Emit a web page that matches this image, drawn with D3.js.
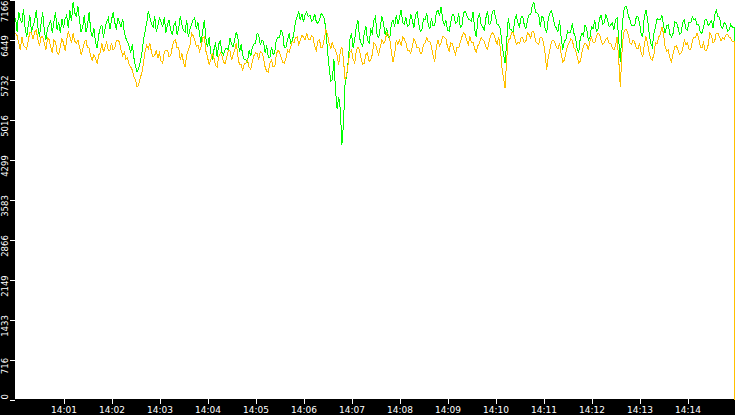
<!DOCTYPE html>
<html lang="en">
<head>
<meta charset="UTF-8">
<title>Throughput 14:00 - 14:15</title>
<script src="https://d3js.org/d3.v7.min.js"></script>
<style>
    html, body { margin: 0; padding: 0; background: #000; overflow: hidden; }
    .axis text { fill: #fff; font-family: "DejaVu Sans", Verdana, sans-serif; }
    .axis line { stroke: #fff; shape-rendering: crispEdges; }
    .series { fill: none; stroke-width: 1; shape-rendering: crispEdges; }
</style>
</head>
<body>
<div id="chart"></div>
<script>
    // samples every 2 s from 14:00:00, the last one is the end of the capture
    const startTime = "14:00:00";
    const stepSeconds = 2;
    const endSecond = 898.75;

    const xTickLabels = ["14:01", "14:02", "14:03", "14:04", "14:05", "14:06", "14:07",
                         "14:08", "14:09", "14:10", "14:11", "14:12", "14:13", "14:14"];
    const yTickLabels = ["0", "716", "1433", "2149", "2866", "3583", "4299", "5016", "5732", "6449", "7166"];

    // one row per minute
    const greenValues = [
        6835, 6590, 6942, 6820, 6745, 6990, 6655, 6490, 6709, 6880, 6584, 6690, 6799, 6970, 6673, 6500, 6745, 6935, 6620, 6435, 6655, 6715, 6799, 6570, 6763, 6945, 6620, 6765, 6566, 6820,
        6655, 6820, 6888, 6655, 6978, 6780, 7121, 6930, 6852, 7040, 6799, 6580, 6673, 6890, 6584, 6695, 6942, 6610, 6494, 6660, 6405, 6295, 6530, 6670, 6709, 6485, 6655, 6770, 6835, 6630,
        6799, 6940, 6763, 6625, 6835, 6760, 6673, 6820, 6584, 6470, 6405, 6330, 6208, 6365, 6118, 5970, 5867, 5940, 6046, 6205, 6440, 6600, 6745, 6965, 6835, 6730, 6673, 6870, 6584, 6690,
        6852, 6760, 6673, 6845, 6566, 6710, 6799, 6625, 6530, 6700, 6763, 6535, 6655, 6870, 6709, 6605, 6584, 6795, 6494, 6630, 6709, 6800, 6835, 6640, 6763, 6550, 6387, 6600, 6799, 6465,
        6315, 6485, 6208, 6085, 6261, 6395, 6136, 6360, 6440, 6220, 6172, 6275, 6297, 6250, 6476, 6370, 6315, 6450, 6584, 6480, 6225, 6360, 6172, 6085, 6082, 6050, 6261, 6150, 6297, 6370,
        6387, 6560, 6530, 6350, 6440, 6410, 6208, 6345, 6136, 6120, 6315, 6180, 6208, 6440, 6494, 6480, 6620, 6560, 6297, 6300, 6440, 6560, 6387, 6420, 6566, 6780, 6852, 6950, 6799, 6910,
        6763, 6900, 6942, 6860, 6888, 6780, 6799, 6910, 6763, 6740, 6799, 6910, 6888, 6830, 6620, 6250, 5957, 5700, 5724, 6100, 5545, 5200, 5419, 5200, 4559, 4950, 5670, 5800, 6082, 6450,
        6566, 6300, 6440, 6680, 6799, 6480, 6387, 6330, 6566, 6690, 6440, 6380, 6620, 6560, 6799, 6860, 6530, 6480, 6673, 6860, 6745, 6540, 6655, 6480, 6494, 6740, 6799, 6680, 6888, 6720,
        6835, 6980, 6745, 6720, 6852, 6680, 6709, 6900, 6799, 6660, 6888, 6940, 6745, 6600, 6620, 6820, 6799, 6930, 6709, 6640, 6835, 6690, 6709, 6930, 6978, 6880, 7032, 6800, 6709, 6800,
        6620, 6600, 6745, 6900, 6888, 6740, 6763, 6920, 6673, 6700, 6924, 6960, 6888, 6820, 6799, 6780, 6942, 6620, 6494, 6820, 6924, 6720, 6673, 6620, 6835, 6960, 6709, 6740, 6942, 6980,
        6852, 6720, 6709, 6640, 6387, 6180, 6028, 6420, 6835, 6640, 6620, 6560, 6799, 6880, 6745, 6680, 6852, 6860, 6709, 6640, 6799, 6900, 6888, 7060, 7121, 6940, 6924, 6900, 6673, 6860,
        6835, 6640, 6566, 6820, 6924, 6960, 6852, 6700, 6655, 6580, 6799, 6500, 6261, 6420, 6440, 6600, 6566, 6580, 6745, 6560, 6494, 6280, 6208, 6480, 6566, 6520, 6709, 6640, 6440, 6480,
        6673, 6640, 6799, 6600, 6620, 6820, 6888, 6720, 6745, 6900, 6799, 6680, 6709, 6740, 6620, 6800, 6835, 6450, 6046, 6600, 6942, 7040, 7032, 6880, 6799, 6700, 6709, 6700, 6852, 6860,
        6745, 6560, 6494, 6860, 6978, 6820, 6566, 6380, 6315, 6560, 6673, 6820, 6799, 6800, 6888, 6700, 6566, 6700, 6709, 6540, 6494, 6560, 6763, 6760, 6673, 6540, 6566, 6760, 6799, 6640,
        6620, 6760, 6745, 6860, 6799, 6820, 6709, 6720, 6584, 6560, 6673, 6800, 6799, 6700, 6745, 6780, 6655, 6880, 6978, 6860, 6852, 6680, 6655, 6760, 6709, 6600, 6620, 6720, 6673,
        3323
    ];

    const orangeValues = [
        6566, 6520, 6387, 6260, 6494, 6340, 6315, 6280, 6440, 6580, 6566, 6460, 6584, 6620, 6440, 6340, 6494, 6500, 6387, 6260, 6476, 6450, 6315, 6200, 6440, 6400, 6225, 6180, 6315, 6470,
        6387, 6250, 6440, 6600, 6494, 6380, 6566, 6420, 6387, 6440, 6315, 6180, 6261, 6400, 6440, 6300, 6297, 6140, 6082, 6180, 6118, 6020, 6172, 6220, 6387, 6220, 6315, 6400, 6261, 6250,
        6387, 6260, 6297, 6420, 6440, 6400, 6261, 6160, 6225, 6100, 6118, 6000, 5957, 5900, 5778, 5720, 5598, 5640, 5760, 5860, 6028, 6240, 6351, 6280, 6387, 6220, 6136, 6160, 6261, 6120,
        6208, 6060, 6028, 6220, 6261, 6260, 6136, 6160, 6315, 6420, 6440, 6300, 6297, 6080, 6208, 6040, 5957, 6180, 6261, 6340, 6566, 6520, 6440, 6330, 6351, 6240, 6315, 6480, 6494, 6240,
        6136, 6000, 6082, 6200, 6118, 5980, 5957, 6140, 6208, 6160, 6046, 6020, 6136, 6240, 6261, 6080, 6172, 6260, 6387, 6140, 5993, 6000, 5903, 6020, 6028, 6080, 5957, 5920, 6046, 6160,
        6208, 6200, 6082, 6240, 6208, 6120, 5957, 5880, 5867, 6020, 6082, 5960, 5957, 6180, 6261, 6220, 6136, 6040, 6028, 6100, 6261, 6220, 6315, 6420, 6387, 6480, 6494, 6360, 6440, 6520,
        6494, 6440, 6566, 6450, 6440, 6520, 6494, 6320, 6261, 6420, 6440, 6300, 6315, 6460, 6620, 6540, 6387, 6280, 6405, 6300, 6261, 6160, 5993, 6240, 6315, 6080, 5724, 5820, 6028, 6220,
        6261, 6100, 6028, 6240, 6315, 6260, 6118, 6000, 6028, 6180, 6208, 6060, 6082, 6180, 6387, 6360, 6261, 6180, 6315, 6440, 6387, 6420, 6566, 6540, 6440, 6200, 6046, 6200, 6440, 6360,
        6440, 6340, 6494, 6460, 6387, 6260, 6261, 6200, 6315, 6460, 6405, 6300, 6315, 6200, 6208, 6360, 6387, 6480, 6405, 6420, 6315, 6160, 6046, 6300, 6440, 6340, 6387, 6500, 6494, 6460,
        6315, 6240, 6387, 6380, 6261, 6180, 6315, 6300, 6405, 6500, 6566, 6540, 6440, 6360, 6494, 6400, 6405, 6280, 6225, 6340, 6387, 6480, 6440, 6420, 6315, 6280, 6405, 6520, 6566, 6540,
        6440, 6360, 6494, 6300, 5957, 5760, 5580, 6100, 6440, 6460, 6566, 6580, 6476, 6360, 6405, 6380, 6476, 6480, 6387, 6420, 6566, 6540, 6476, 6600, 6584, 6420, 6387, 6360, 6494, 6480,
        6387, 6200, 5903, 6140, 6261, 6420, 6440, 6400, 6315, 6280, 6387, 6200, 6046, 6080, 6208, 6340, 6387, 6460, 6440, 6300, 6261, 6140, 6028, 6060, 6208, 6340, 6387, 6360, 6261, 6420,
        6494, 6400, 6387, 6500, 6566, 6540, 6440, 6360, 6387, 6460, 6476, 6380, 6387, 6300, 6261, 6340, 6494, 6100, 5598, 6200, 6566, 6620, 6620, 6540, 6387, 6360, 6440, 6400, 6297, 6280,
        6387, 6220, 6136, 6360, 6494, 6400, 6208, 6100, 6082, 6180, 6387, 6380, 6494, 6540, 6673, 6560, 6315, 6240, 6261, 6120, 6046, 6200, 6315, 6340, 6261, 6180, 6208, 6280, 6440, 6360,
        6387, 6280, 6261, 6420, 6494, 6480, 6566, 6480, 6315, 6300, 6387, 6260, 6261, 6360, 6566, 6520, 6387, 6420, 6566, 6560, 6494, 6420, 6476, 6460, 6530, 6540, 6494, 6480, 6405,
        0
    ];

    const W = 735, H = 415;
    const plot = {left: 15, top: 0, right: 735, bottom: 399};

    const parseClock = d3.timeParse("%H:%M:%S");
    const parseTick = d3.timeParse("%H:%M");
    const t0 = parseClock(startTime);
    const tEnd = d3.timeSecond.offset(t0, 900);

    const seconds = greenValues.map((_, i) => i < greenValues.length - 1 ? i * stepSeconds : endSecond);
    const times = seconds.map(s => new Date(t0.getTime() + s * 1000));

    const x = d3.scaleTime()
        .domain([t0, tEnd])
        .range([plot.left + 0.5, plot.right + 0.5]);

    const y = d3.scaleLinear()
        .domain([0, +yTickLabels[yTickLabels.length - 1]])
        .range([plot.bottom + 0.5, plot.top - 0.5]);

    const svg = d3.select("#chart")
        .append("svg")
        .attr("width", W)
        .attr("height", H)
        .style("display", "block");

    svg.append("rect")
        .attr("width", W).attr("height", H)
        .attr("fill", "#000");

    svg.append("rect")
        .attr("x", plot.left).attr("y", plot.top)
        .attr("width", plot.right - plot.left)
        .attr("height", plot.bottom - plot.top)
        .attr("fill", "#fff");

    // y axis, labels turned upright
    const yAxis = svg.append("g")
        .attr("class", "axis")
        .attr("transform", `translate(${plot.left},0)`)
        .call(d3.axisLeft(y)
            .tickValues(yTickLabels.map(Number))
            .tickSize(5)
            .tickFormat((d, i) => yTickLabels[i]));
    yAxis.select(".domain").remove();
    yAxis.selectAll(".tick text")
        .style("font-size", "8.5px")
        .attr("text-anchor", "middle")
        .attr("x", 0)
        .attr("y", 0)
        .attr("dy", "0.35em")
        .attr("transform", function(d) {
            const len = this.getComputedTextLength();
            const c = Math.max(len / 2, Math.min(plot.bottom - len / 2, y(d) + 6));
            return `translate(-9.5,${c - y(d)}) rotate(-90)`;
        });

    const xAxis = svg.append("g")
        .attr("class", "axis")
        .attr("transform", `translate(0,${plot.bottom})`)
        .call(d3.axisBottom(x)
            .tickValues(xTickLabels.map(parseTick))
            .tickSize(5)
            .tickFormat((d, i) => xTickLabels[i]));
    xAxis.select(".domain").remove();
    xAxis.selectAll(".tick text").style("font-size", "9px");

    // regular samples joined straight, the capture end drops vertically
    function drawSeries(values, color) {
        const pts = values.map((v, i) => ({t: times[i], v: v}));
        const n = pts.length;
        const body = d3.line().x(d => x(d.t)).y(d => y(d.v));
        const tail = d3.line().curve(d3.curveStepAfter).x(d => x(d.t)).y(d => y(d.v));
        svg.append("path")
            .attr("class", "series")
            .attr("stroke", color)
            .attr("d", body(pts.slice(0, n - 1)));
        svg.append("path")
            .attr("class", "series")
            .attr("stroke", color)
            .attr("d", tail(pts.slice(n - 2)));
    }

    drawSeries(greenValues, "#00ff00");
    drawSeries(orangeValues, "#ffc000");
</script>
</body>
</html>
